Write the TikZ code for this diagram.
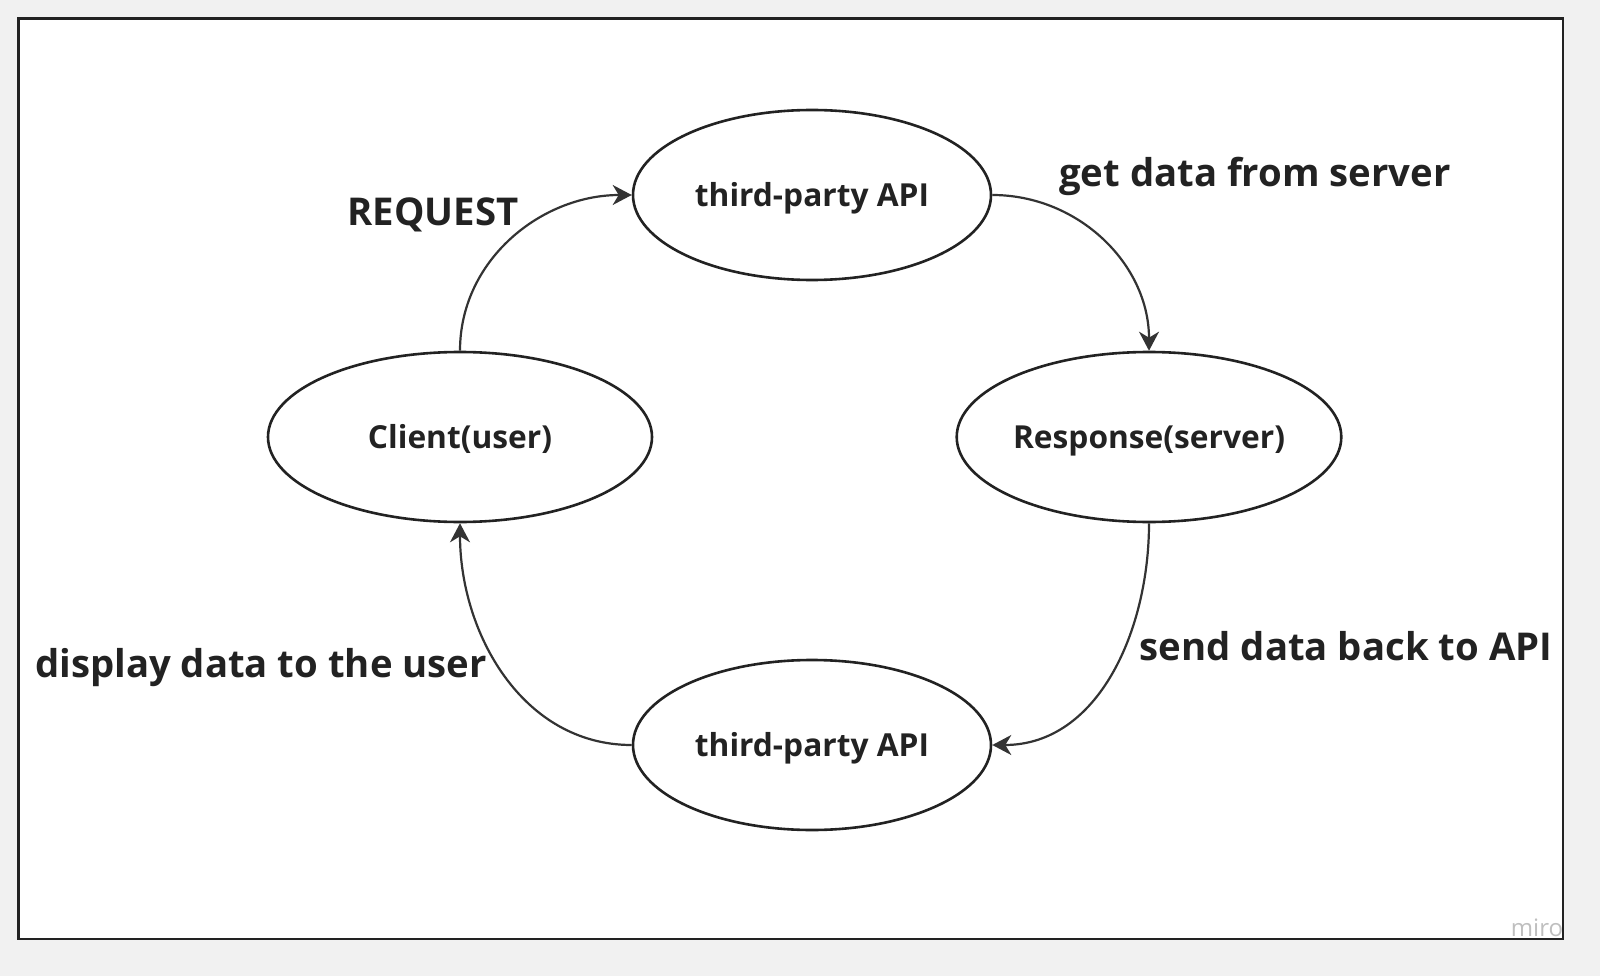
\documentclass[tikz,border=0pt]{standalone}
\usepackage{fontspec}
\setmainfont{Open Sans}
\usetikzlibrary{shapes.geometric,arrows.meta}
\definecolor{bgout}{HTML}{F1F1F1}
\definecolor{ink}{HTML}{222222}
\definecolor{arrowc}{HTML}{333333}
\tikzset{
  oval/.style={ellipse, draw=ink, line width=2.6pt, fill=white, minimum width=#1, minimum height=170pt, inner sep=0pt, font=\fontsize{31.7}{36}\selectfont\bfseries, text=ink, text height=30.5pt, text depth=7.6pt},
  oval/.default=358pt,
  link/.style={draw=arrowc, line width=2.2pt, -{Stealth[length=19pt,width=20pt,inset=6pt]}},
  lbl/.style={font=\fontsize{38.3}{44}\selectfont\bfseries, text=ink, inner sep=0pt}
}
\begin{document}
\begin{tikzpicture}[x=1pt,y=-1pt]
\useasboundingbox (0,0) rectangle (1600,976);
\fill[bgout] (0,0) rectangle (1600,976);
\draw[ink, line width=2.6pt, fill=white] (18.5,18.5) rectangle (1563,939);
\node[oval] (api1) at (812,195) {third-party API};
\node[oval=384pt] (client) at (460,437) {Client(user)};
\node[oval=382pt] (resp) at (1149,437) {Response(server)};
\node[oval] (api2) at (812,745) {third-party API};
\draw[link] (client.north) to[out=90,in=180] (api1.west);
\draw[link] (api1.east) to[out=0,in=90] (resp.north);
\draw[link] (resp.south) to[out=-90,in=0] (api2.east);
\draw[link] (api2.west) to[out=180,in=-90] (client.south);
\node[lbl] (l1) at (433,215) {REQUEST};
\node[lbl] (l2) at (1255,176) {get data from server};
\node[lbl] (l3) at (1346,646) {send data back to API};
\node[lbl] (l4) at (261,668) {display data to the user};
\node[font=\fontsize{24}{28}\selectfont, text=black!25] (wm) at (1537,928) {miro};
\end{tikzpicture}
\end{document}
